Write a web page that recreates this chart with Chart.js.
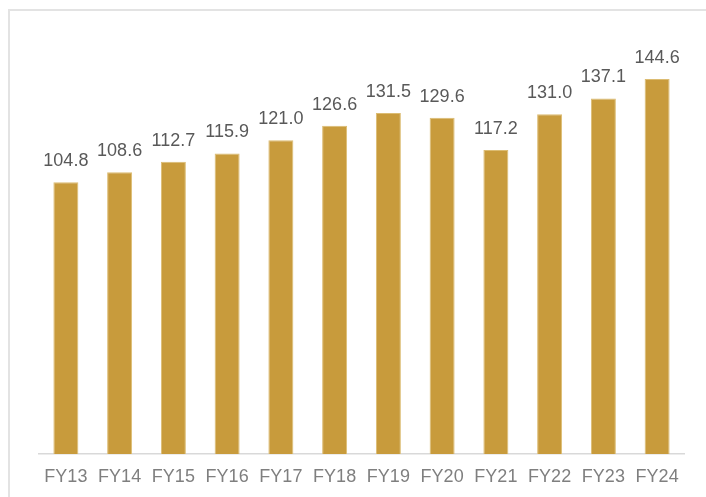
<!DOCTYPE html>
<html>
<head>
<meta charset="utf-8">
<script src="https://cdn.jsdelivr.net/npm/chart.js@4/dist/chart.umd.min.js"></script>
<style>
  html, body { margin: 0; padding: 0; background: #fff; overflow: hidden; }
  #frame {
    position: absolute; left: 8px; top: 9px; width: 800px; height: 600px;
    border: 2px solid #e3e3e3; box-sizing: border-box;
  }
  #wrap { position: absolute; left: 0; top: 0; width: 706px; height: 497px; }
</style>
</head>
<body>
<div id="frame"></div>
<div id="wrap"><canvas id="chart"></canvas></div>
<script>
const years = ['FY13', 'FY14', 'FY15', 'FY16', 'FY17', 'FY18', 'FY19', 'FY20', 'FY21', 'FY22', 'FY23', 'FY24'];
const values = [104.8, 108.6, 112.7, 115.9, 121.0, 126.6, 131.5, 129.6, 117.2, 131.0, 137.1, 144.6];

const FONT = 'Arial, "Liberation Sans", sans-serif';

// value labels above each bar
const barLabels = {
  id: 'barLabels',
  afterDatasetsDraw(chart) {
    const ctx = chart.ctx;
    const meta = chart.getDatasetMeta(0);
    ctx.save();
    ctx.font = '18px ' + FONT;
    ctx.fillStyle = '#595959';
    ctx.textAlign = 'center';
    ctx.textBaseline = 'alphabetic';
    meta.data.forEach((bar, i) => {
      ctx.fillText(values[i].toFixed(1), bar.x, bar.y - 16);
    });
    ctx.restore();
  },
};

new Chart(document.getElementById('chart'), {
  type: 'bar',
  data: {
    labels: years,
    datasets: [{
      data: values,
      backgroundColor: '#c89b3c',
      borderColor: '#dcbc72',
      borderWidth: 1,
      barPercentage: 0.465,
      categoryPercentage: 1,
    }],
  },
  options: {
    responsive: true,
    maintainAspectRatio: false,
    animation: false,
    layout: { padding: { left: 39, right: 22, top: 39, bottom: 0 } },
    plugins: {
      legend: { display: false },
      tooltip: { enabled: false },
    },
    scales: {
      x: {
        grid: { display: false, drawTicks: false },
        border: { display: true, color: '#d9d9d9', width: 1.5 },
        ticks: { color: '#7f7f7f', font: { family: FONT, size: 18 }, padding: 12, maxRotation: 0, autoSkip: false },
        afterFit(scale) { scale.height = 43; },
      },
      y: {
        display: false,
        min: 0,
        max: 160,
      },
    },
  },
  plugins: [barLabels],
});
</script>
</body>
</html>
